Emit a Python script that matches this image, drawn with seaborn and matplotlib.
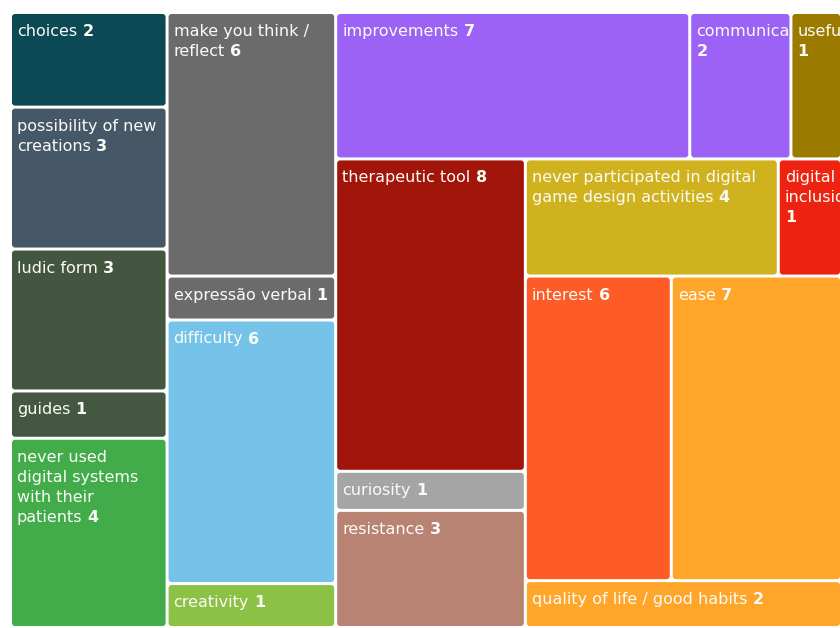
import math
import matplotlib
matplotlib.use("Agg")
import matplotlib.pyplot as plt
from matplotlib.patches import FancyBboxPatch
from matplotlib.font_manager import FontProperties
from matplotlib.transforms import Bbox
import seaborn as sns

# ---------------- data ----------------
labels = [
    "choices", "possibility of new creations", "ludic form", "guides",
    "never used digital systems with their patients",
    "make you think / reflect", "expressão verbal", "difficulty", "creativity",
    "improvements", "communication", "useful",
    "therapeutic tool", "curiosity", "resistance",
    "never participated in digital game design activities", "digital inclusion",
    "interest", "ease", "quality of life / good habits",
]
values = [2, 3, 3, 1, 4,
          6, 1, 6, 1,
          7, 2, 1,
          8, 1, 3,
          4, 1,
          6, 7, 2]
colors = [
    "#0b4a55", "#465868", "#435640", "#445741", "#42ab4a",
    "#6b6b6b", "#6b6b6b", "#76c3ea", "#8bc145",
    "#9b62f5", "#9b62f5", "#9b7a00",
    "#a2150a", "#a5a5a5", "#b98373",
    "#cfb21e", "#ee2211",
    "#fe5b27", "#fea52a", "#fea52a",
]

# ---------------- style ----------------
sns.set_theme(style="white")
plt.rcParams['font.family'] = ['DejaVu Sans']

FIG_W, FIG_H, DPI = 840, 628, 100
fig = plt.figure(figsize=(FIG_W / DPI, FIG_H / DPI), dpi=DPI)
fig.patch.set_facecolor("white")

X0, Y0, W, H = 10.5, 12.5, 831.0, 615.0
ax = fig.add_axes([X0 / FIG_W, 1 - (Y0 + H) / FIG_H, W / FIG_W, H / FIG_H])
ax.set_xlim(0, W)
ax.set_ylim(H, 0)
ax.axis("off")

# ---------------- squarified layout (golden ratio target) ----------------
RATIO = 0.5 * (1 + 5 ** 0.5)


def worst(areas, L, ratio):
    s = sum(areas)
    if s == 0:
        return math.inf
    f = L * L * ratio
    return max(f * max(areas) / (s * s), (s * s) / (f * min(areas)))


def place(row, L, rect, out, areas, flush):
    horizontal = abs(L - rect[2]) < 1e-9
    s = sum(areas[j] for j in row)
    other = s / L
    lim = rect[3] if horizontal else rect[2]
    if flush or other > lim:
        other = lim
    pos = rect[0] if horizontal else rect[1]
    end = pos + L
    for k, j in enumerate(row):
        step = areas[j] / other
        if k == len(row) - 1:
            step = end - pos
        if horizontal:
            out[j] = (pos, rect[1], step, other)
        else:
            out[j] = (rect[0], pos, other, step)
        pos += step
    if horizontal:
        rect[1] += other
        rect[3] -= other
    else:
        rect[0] += other
        rect[2] -= other


def squarify(vals, w, h, ratio=RATIO):
    total = float(sum(vals))
    areas = [v / total * w * h for v in vals]
    rect = [0.0, 0.0, w, h]
    out = [None] * len(vals)
    row = []
    L = min(w, h)
    best = math.inf
    i = 0
    while i < len(areas):
        row.append(i)
        sc = worst([areas[j] for j in row], L, ratio)
        if sc <= best:
            best = sc
            i += 1
        else:
            row.pop()
            place(row, L, rect, out, areas, False)
            L = min(rect[2], rect[3])
            row = []
            best = math.inf
    if row:
        place(row, L, rect, out, areas, True)
    return out


rects = squarify(values, W, H)

# ---------------- drawing ----------------
GAP = 1.5
FS_PX = 16
fs_pt = FS_PX * 72 / DPI
fp_n = FontProperties(family="DejaVu Sans", size=fs_pt)
fp_b = FontProperties(family="DejaVu Sans", size=fs_pt, weight="bold")
renderer = fig.canvas.get_renderer()


def tw(s, fp):
    return renderer.get_text_width_height_descent(s, fp, ismath=False)[0]


SP = tw("a a", fp_n) - tw("aa", fp_n)
TXT_COLOR = "#fbfbf6"
PAD_L, PAD_R = 5, 6
LINE = 20
BASE0 = 22


def width_of(toks):
    normal = " ".join(t for t, b in toks if not b)
    bold = " ".join(t for t, b in toks if b)
    wd = 0.0
    if normal:
        wd += tw(normal, fp_n)
    if bold:
        if normal:
            wd += SP
        wd += tw(bold, fp_b)
    return wd


for lab, val, col, (x, y, w, h) in zip(labels, values, colors, rects):
    tx, ty, tw_, th = x + GAP, y + GAP, w - 2 * GAP, h - 2 * GAP
    patch = FancyBboxPatch((tx, ty), tw_, th,
                           boxstyle="round,pad=0,rounding_size=3",
                           facecolor=col, edgecolor="none", linewidth=0)
    ax.add_patch(patch)

    # clip box in display pixels for this tile
    p0 = ax.transData.transform((tx, ty))
    p1 = ax.transData.transform((tx + tw_, ty + th))
    clip = Bbox.from_extents(min(p0[0], p1[0]), min(p0[1], p1[1]),
                             max(p0[0], p1[0]), max(p0[1], p1[1]))

    avail = tw_ - PAD_L - PAD_R
    tokens = [(t, False) for t in lab.split()] + [(str(val), True)]
    lines = []
    cur = []
    for tok in tokens:
        if not cur:
            cur = [tok]
        elif width_of(cur + [tok]) <= avail:
            cur.append(tok)
        else:
            lines.append(cur)
            cur = [tok]
    if cur:
        lines.append(cur)

    for li, toks in enumerate(lines):
        by = ty + BASE0 + LINE * li
        bx = tx + PAD_L
        normal = " ".join(t for t, b in toks if not b)
        bold = " ".join(t for t, b in toks if b)
        if normal:
            t1 = ax.text(bx, by, normal, fontproperties=fp_n, color=TXT_COLOR,
                         ha="left", va="baseline", clip_on=True)
            t1.set_clip_path(None)
            t1.set_clip_box(clip)
            bx += tw(normal, fp_n) + SP
        if bold:
            t2 = ax.text(bx, by, bold, fontproperties=fp_b, color=TXT_COLOR,
                         ha="left", va="baseline", clip_on=True)
            t2.set_clip_path(None)
            t2.set_clip_box(clip)

fig.savefig("out.png", dpi=DPI, facecolor="white")
